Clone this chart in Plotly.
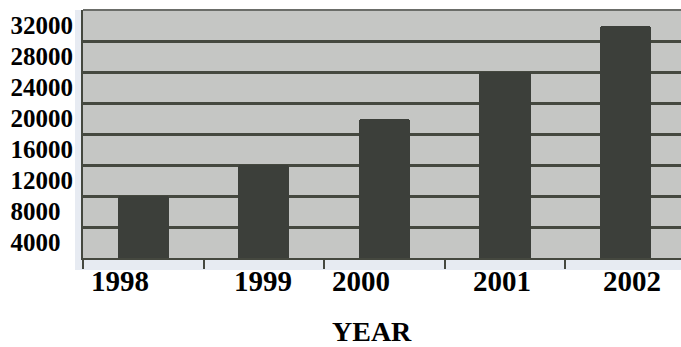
import plotly.graph_objects as go

# Yearly totals
years = ["1998", "1999", "2000", "2001", "2002"]
totals = [10000, 14000, 20000, 26000, 32000]

# Y-axis tick values and their printed labels
y_ticks = [4000, 8000, 12000, 16000, 20000, 24000, 28000, 32000]
y_labels = ["4000", "8000", "12000", "16000", "20000", "24000", "28000", "32000"]

# Label nudges (px) for the year captions under the axis
year_label_shift = [-23, -1, -23, -3, 6]

FONT = "Liberation Serif, Times New Roman, serif"
INK = "#3c3f3a"
GRID = "#45483f"
PANEL = "#e7ebf2"

# Gridlines sit halfway between the labelled ticks
grid_vals = [t + 2000 for t in y_ticks[:-1]]

# Pad shorter labels so every label starts at the same left edge
pad = max(len(s) for s in y_labels)
y_text = [s + "\u00a0\u00a0" * (pad - len(s)) for s in y_labels]

fig = go.Figure(
    go.Bar(
        x=years,
        y=totals,
        width=0.425,
        marker=dict(color=INK, line=dict(width=0), cornerradius=3),
        hoverinfo="x+y",
    )
)

fig.update_layout(
    width=681,
    height=347,
    margin=dict(l=83, r=0, t=10, b=89),
    paper_bgcolor="white",
    plot_bgcolor="#c5c6c4",
    showlegend=False,
    bargap=0,
    font=dict(family=FONT, color="black"),
)

fig.update_xaxes(
    type="category",
    range=[-0.5, 4.46],
    showgrid=False,
    showticklabels=False,
    ticks="outside",
    tickson="boundaries",
    ticklen=9,
    tickwidth=2,
    tickcolor=GRID,
    showline=True,
    linecolor=GRID,
    linewidth=2,
    zeroline=False,
)

fig.update_yaxes(
    range=[2000, 34000],
    tickmode="array",
    tickvals=y_ticks,
    ticktext=y_text,
    ticks="",
    ticklabelstandoff=3,
    tickfont=dict(family=FONT, size=25, color="black", weight="bold"),
    showgrid=False,
    minor=dict(tickvals=grid_vals, showgrid=True, gridcolor=GRID, gridwidth=2.5, ticks=""),
    showline=True,
    linecolor=GRID,
    linewidth=2,
    zeroline=False,
)

# Pale strips framing the plot area on the left and underneath
fig.add_shape(
    type="rect", xref="paper", yref="paper",
    x0=-0.0134, x1=0.0, y0=-0.048, y1=1.0,
    fillcolor=PANEL, line=dict(width=0), layer="below",
)
fig.add_shape(
    type="rect", xref="paper", yref="paper",
    x0=-0.0134, x1=1.0, y0=-0.048, y1=0.0,
    fillcolor=PANEL, line=dict(width=0), layer="below",
)
# Upper edge of the plot area
fig.add_shape(
    type="line", xref="paper", yref="paper",
    x0=0, x1=1, y0=1, y1=1,
    line=dict(color="#6b6d69", width=2),
)

# Year captions under the axis
for i, (yr, dx) in enumerate(zip(years, year_label_shift)):
    fig.add_annotation(
        x=i, xref="x", y=0, yref="paper",
        yanchor="middle", yshift=-23, xshift=dx,
        text=f"<b>{yr}</b>", showarrow=False, borderpad=0,
        font=dict(family=FONT, size=29, color="black"),
    )

# Axis caption
fig.add_annotation(
    x=(372 - 83) / 598, xref="paper", y=0, yref="paper",
    yanchor="middle", yshift=-73,
    text="<b>YEAR</b>", showarrow=False, borderpad=0,
    font=dict(family=FONT, size=28, color="black"),
)

fig.write_html("out.html")
